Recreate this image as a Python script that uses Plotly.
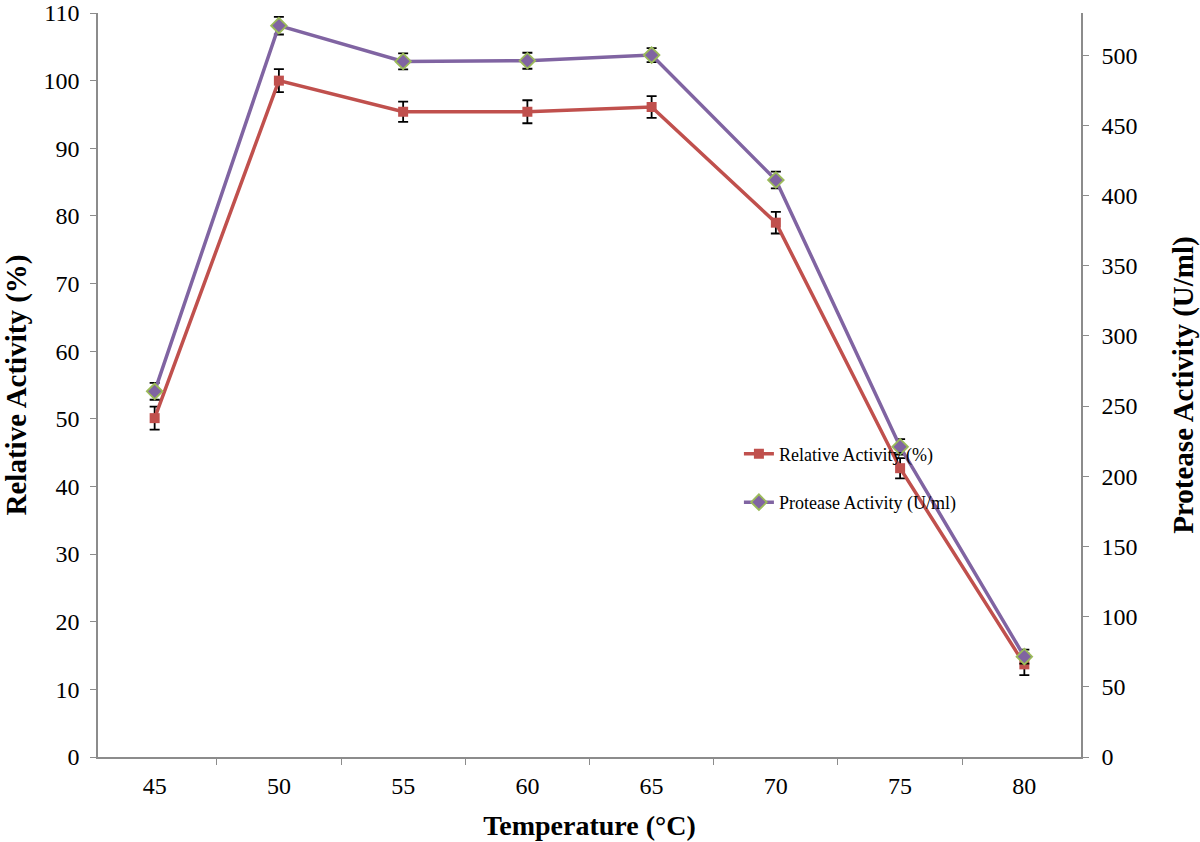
import plotly.graph_objects as go

temps = ["45", "50", "55", "60", "65", "70", "75", "80"]
relative_activity = [50.1, 100.0, 95.4, 95.4, 96.1, 79.0, 42.7, 13.7]
relative_err = [1.7, 1.7, 1.5, 1.7, 1.6, 1.6, 1.5, 1.6]
protease_activity = [260.5, 521.0, 495.5, 496.0, 500.0, 411.0, 221.0, 71.5]
protease_err = [6.0, 6.3, 5.7, 5.7, 5.0, 6.0, 5.5, 5.0]
left_ticks = list(range(0, 111, 10))
right_ticks = list(range(0, 501, 50))

FONT = "Liberation Serif, Times New Roman, serif"
AXIS_COLOR = "#8c8c8c"

fig = go.Figure()
fig.add_trace(go.Scatter(
    x=temps, y=relative_activity, name="Relative Activity (%)",
    mode="lines+markers", legendgroup="a",
    line=dict(color="#C0504D", width=3.5),
    marker=dict(symbol="square", size=10, color="#C0504D"),
    error_y=dict(type="data", array=relative_err, color="black", thickness=1.8, width=5),
    yaxis="y",
))
fig.add_trace(go.Scatter(
    x=temps, y=protease_activity, name="Protease Activity (U/ml)",
    mode="lines+markers", legendgroup="b",
    line=dict(color="#8064A2", width=3.5),
    marker=dict(symbol="diamond", size=12, color="#8064A2", line=dict(color="#9BBB59", width=1.8)),
    error_y=dict(type="data", array=protease_err, color="black", thickness=1.8, width=5),
    yaxis="y2",
))

fig.update_layout(
    width=1200, height=842,
    margin=dict(l=98, r=119, t=13, b=85, autoexpand=False),
    paper_bgcolor="white", plot_bgcolor="white",
    font=dict(family=FONT, color="black", size=24),
    xaxis=dict(
        type="category", tickson="boundaries", ticks="outside", ticklen=6,
        tickcolor=AXIS_COLOR, showline=True, linecolor=AXIS_COLOR, linewidth=1.5,
        showgrid=False, zeroline=False, tickfont=dict(size=24), automargin=False,
        ticklabelstandoff=6,
        title=dict(text="<b>Temperature (°C)</b>", font=dict(size=28), standoff=18),
    ),
    yaxis=dict(
        range=[0, 110], tickvals=left_ticks, ticks="outside", ticklen=6,
        tickcolor=AXIS_COLOR, showline=True, linecolor=AXIS_COLOR, linewidth=1.5,
        showgrid=False, zeroline=False, tickfont=dict(size=24), automargin=False,
        ticklabelstandoff=6, ticklabeloverflow="allow",
        title=dict(text="<b>Relative Activity (%)</b>", font=dict(size=29), standoff=22),
    ),
    yaxis2=dict(
        range=[0, 530], tickvals=right_ticks, overlaying="y", side="right",
        ticks="outside", ticklen=6, automargin=False,
        tickcolor=AXIS_COLOR, showline=True, linecolor=AXIS_COLOR, linewidth=1.5,
        showgrid=False, zeroline=False, tickfont=dict(size=24),
        ticklabelstandoff=8,
        title=dict(text="<b>Protease Activity (U/ml)</b>", font=dict(size=29), standoff=36),
    ),
    legend=dict(
        x=0.652, y=0.432, xanchor="left", yanchor="top",
        font=dict(size=18), bgcolor="rgba(0,0,0,0)",
        tracegroupgap=22, traceorder="grouped",
    ),
    showlegend=True,
)

fig.write_html(
    "out.html",
    config={"displayModeBar": False},
    post_script="document.body.style.margin='0px';",
)
